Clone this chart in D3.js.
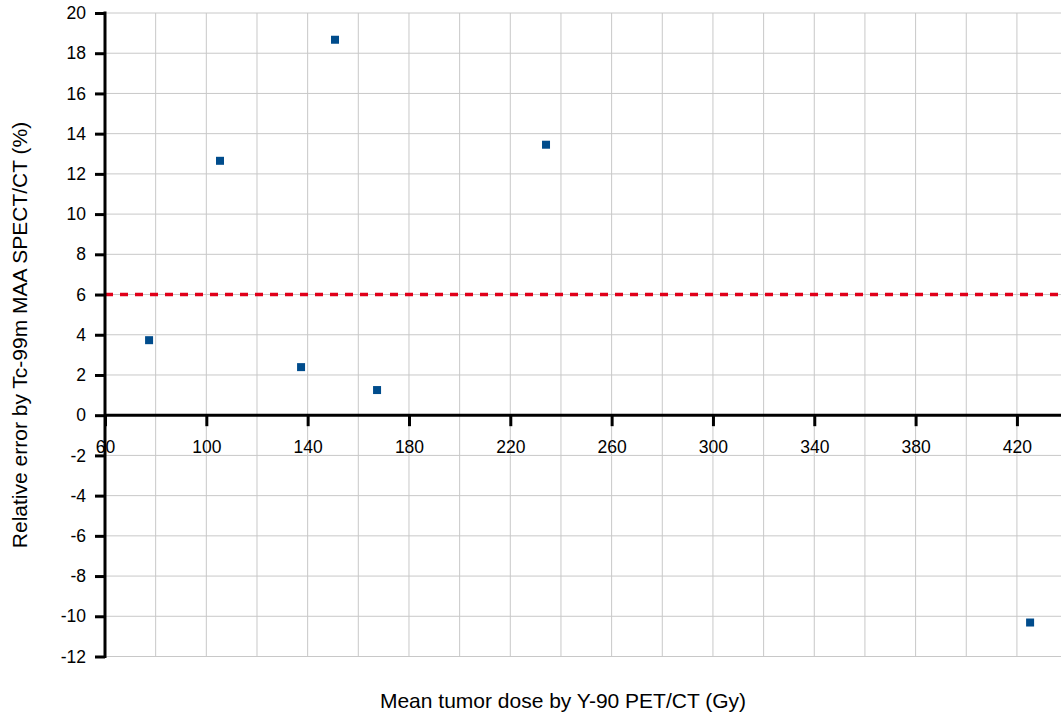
<!DOCTYPE html>
<html>
<head>
<meta charset="utf-8">
<script src="https://cdn.jsdelivr.net/npm/d3@7"></script>
<style>
  body { margin: 0; background: #fff; }
  text { font-family: "Liberation Sans", Arial, sans-serif; }
</style>
</head>
<body>
<script>
// data
const doseX = [77.4, 105.4, 137.4, 150.8, 167.4, 234.1, 425.2];
const errorY = [3.73, 12.65, 2.39, 18.67, 1.25, 13.45, -10.31];
const xTicks = [60, 100, 140, 180, 220, 260, 300, 340, 380, 420];
const yTicks = [20, 18, 16, 14, 12, 10, 8, 6, 4, 2, 0, -2, -4, -6, -8, -10, -12];
const threshold = 6;

const w = 1061, h = 719;
const plotLeft = 105, plotRight = 1061, plotTop = 13, plotBottom = 656.5;

const xScale = d3.scaleLinear().domain([60, 437.4]).range([plotLeft, plotRight]);
const yScale = d3.scaleLinear().domain([-12, 20]).range([plotBottom, plotTop]);

const svg = d3.select("body").append("svg")
    .attr("width", w)
    .attr("height", h);

// grid
const xGrid = d3.range(60, 437, 20);
svg.append("g").selectAll("line")
    .data(xGrid)
    .enter().append("line")
    .attr("x1", d => xScale(d)).attr("x2", d => xScale(d))
    .attr("y1", plotTop).attr("y2", plotBottom)
    .attr("stroke", "#c8c8c8").attr("stroke-width", 1);

svg.append("g").selectAll("line")
    .data(yTicks)
    .enter().append("line")
    .attr("x1", plotLeft).attr("x2", plotRight)
    .attr("y1", d => yScale(d)).attr("y2", d => yScale(d))
    .attr("stroke", "#c8c8c8").attr("stroke-width", 1);

// threshold line
svg.append("line")
    .attr("x1", plotLeft).attr("x2", plotRight)
    .attr("y1", yScale(threshold)).attr("y2", yScale(threshold))
    .attr("stroke", "#e0001a").attr("stroke-width", 3.5)
    .attr("stroke-dasharray", "8,7");

// y axis
const yAxis = d3.axisLeft(yScale).tickValues(yTicks).tickSize(10).tickPadding(9)
    .tickFormat(d => String(d));
const gy = svg.append("g").attr("transform", `translate(${plotLeft},0)`).call(yAxis);
gy.select(".domain").remove();
gy.selectAll(".tick line").attr("stroke", "#000").attr("stroke-width", 3);
gy.selectAll(".tick text").attr("font-size", 17.5).attr("fill", "#000");
svg.append("line")
    .attr("x1", plotLeft).attr("x2", plotLeft)
    .attr("y1", plotTop - 1.5).attr("y2", plotBottom + 1.5)
    .attr("stroke", "#000").attr("stroke-width", 3);

// x axis across zero
const xAxis = d3.axisBottom(xScale).tickValues(xTicks).tickSize(11).tickPadding(14)
    .tickFormat(d => String(d));
const gx = svg.append("g").attr("transform", `translate(0,${yScale(0)})`).call(xAxis);
gx.select(".domain").remove();
gx.selectAll(".tick line").attr("stroke", "#000").attr("stroke-width", 3);
gx.selectAll(".tick text").attr("font-size", 17.5).attr("fill", "#000");
svg.append("line")
    .attr("x1", plotLeft).attr("x2", plotRight)
    .attr("y1", yScale(0)).attr("y2", yScale(0))
    .attr("stroke", "#000").attr("stroke-width", 3);

// points
svg.append("g").selectAll("rect")
    .data(doseX)
    .enter().append("rect")
    .attr("x", d => xScale(d) - 4)
    .attr("y", (d, i) => yScale(errorY[i]) - 4)
    .attr("width", 8).attr("height", 8)
    .attr("fill", "#004c8c");

// axis titles
svg.append("text")
    .attr("x", 563).attr("y", 708)
    .attr("text-anchor", "middle")
    .attr("font-size", 21)
    .text("Mean tumor dose by Y-90 PET/CT (Gy)");

svg.append("text")
    .attr("transform", "translate(27,335) rotate(-90)")
    .attr("text-anchor", "middle")
    .attr("font-size", 21)
    .text("Relative error by Tc-99m MAA SPECT/CT (%)");
</script>
</body>
</html>
